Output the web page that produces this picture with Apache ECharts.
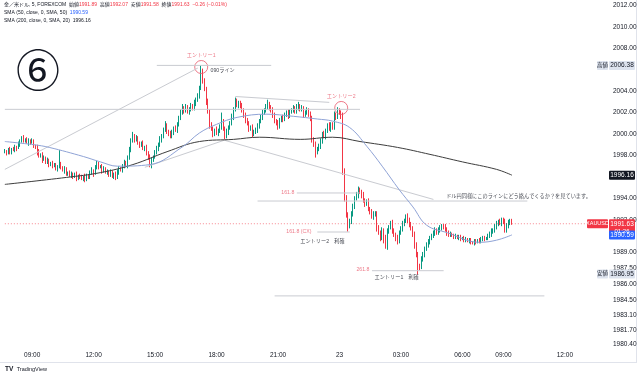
<!DOCTYPE html>
<html>
<head>
<meta charset="utf-8">
<script src="https://cdn.jsdelivr.net/npm/echarts@6/dist/echarts.min.js"></script>
<style>
  html, body { margin: 0; background: #fff; }
  #chart { width: 640px; height: 376px; }
</style>
</head>
<body>
<div id="chart"></div>
<script>
const FONT = '"Liberation Sans", "Noto Sans CJK JP", sans-serif';

// 5 minute bars (JST), 07:00-07:55 on the 23rd is the daily break
const sessions = [["22", "07:40", "23:55"], ["23", "00:00", "06:55"], ["23", "08:00", "13:55"]];
const categories = [];
const toMin = (s) => +s.slice(0, 2) * 60 + +s.slice(3);
for (const [d, a, b] of sessions) {
  for (let m = toMin(a); m <= toMin(b); m += 5) {
    categories.push(d + " " + String(Math.floor(m / 60)).padStart(2, "0") + ":" + String(m % 60).padStart(2, "0"));
  }
}
const timeTicks = ["09:00", "12:00", "15:00", "18:00", "21:00", "00:00", "03:00", "06:00"];
const priceTicks = [2012, 2010, 2008, 2004, 2002, 2000, 1998, 1994, 1992, 1989, 1987.5, 1986, 1984.5, 1983.1, 1981.7, 1980.4];

const firstOpen = 1998.3;
const closes = [
  1998.4,1998.2,1998.5,1998.3,1998.6,1998.5,1998.8,1998.7,1999.0,1999.3,
  1999.6,1999.4,1999.5,1999.2,1999.4,1999.2,1999.3,1998.9,1998.8,1998.3,
  1998.0,1998.1,1997.6,1997.8,1997.4,1997.5,1997.2,1997.3,1997.0,1997.1,
  1996.8,1997.0,1997.2,1996.9,1996.6,1996.7,1996.3,1996.4,1996.1,1996.3,
  1996.0,1996.2,1995.9,1996.1,1996.0,1995.8,1996.0,1995.8,1996.1,1996.0,
  1996.4,1996.6,1996.3,1996.9,1997.2,1996.9,1997.0,1996.6,1996.8,1996.5,
  1996.5,1996.2,1996.4,1996.0,1996.3,1996.0,1996.4,1996.8,1996.6,1997.0,
  1997.3,1997.1,1997.8,1998.5,1999.4,1999.8,1999.5,1999.6,1999.2,1999.0,
  1999.1,1998.7,1998.8,1998.2,1997.8,1997.1,1997.6,1997.9,1998.3,1998.6,
  1999.0,1999.5,1999.8,2000.4,2000.8,2000.3,2000.0,1999.8,2000.2,2000.5,
  2000.4,2000.9,2001.5,2002.0,2002.4,2002.2,2002.5,2002.1,2002.3,2002.6,
  2002.4,2002.9,2003.2,2003.5,2004.3,2005.8,2005.0,2004.2,2003.0,2002.1,
  2000.8,2000.5,2000.0,2000.3,2000.1,2000.3,2000.6,2001.2,2000.5,1999.8,
  2000.2,2000.6,2001.0,2001.6,2002.3,2003.0,2002.7,2002.9,2002.6,2002.2,
  2001.8,2001.2,2001.0,2000.5,2000.6,2000.0,2000.2,2000.4,2000.7,2001.2,
  2001.6,2002.0,2002.2,2002.5,2002.8,2002.5,2002.2,2001.8,2001.2,2001.0,
  2000.7,2001.3,2001.5,2001.4,2001.8,2002.0,2001.7,2002.1,2002.2,2002.4,
  2002.1,2002.5,2002.6,2002.3,2002.4,2001.8,2002.0,2002.2,2001.9,2001.4,
  1999.5,1999.0,1998.3,1998.6,1998.9,1999.3,2000.0,1999.8,2000.3,2000.8,
  2000.5,2000.9,2000.6,2001.8,2001.6,2002.1,2002.0,2001.7,1996.5,1994.0,
  1992.5,1991.5,1991.8,1992.6,1993.2,1994.0,1994.3,1994.8,1994.6,1994.3,
  1993.8,1993.5,1993.7,1993.0,1992.8,1992.3,1992.5,1992.6,1991.2,1990.8,
  1990.3,1991.0,1990.4,1989.5,1990.9,1991.3,1991.7,1991.0,1990.6,1990.3,
  1990.0,1990.8,1991.2,1991.6,1991.9,1992.3,1992.0,1991.5,1991.2,1990.7,
  1989.6,1988.8,1987.7,1987.6,1988.3,1988.8,1989.3,1989.6,1990.0,1990.3,
  1990.5,1990.8,1991.0,1990.8,1991.1,1991.2,1991.4,1991.3,1991.1,1990.8,
  1990.6,1990.7,1990.5,1990.4,1990.5,1990.3,1990.4,1990.2,1990.3,1990.1,
  1990.2,1990.0,1990.1,1989.9,1989.8,1990.0,1989.9,1990.1,1990.0,1990.2,
  1990.3,1990.2,1990.3,1990.5,1990.7,1990.9,1991.0,1991.4,1991.6,1991.8,
  1991.7,1992.0,1991.8,1991.0,1991.5,1991.7,1991.89,1991.63
];
// wick lengths above / below the body, in tenths of a dollar
const wickUp = [
  2,1,2,3,1,2,2,1,3,2, 2,3,1,2,2,1,3,2,1,2, 3,1,2,2,1,3,2,1,2,2, 2,1,13,2,1,3,2,1,2,2,
  1,2,3,1,2,2,1,3,2,1, 2,3,1,2,3,2,1,2,2,1, 2,1,3,2,1,2,3,2,1,2, 3,2,2,3,2,4,2,3,2,1,
  2,3,1,2,2,3,2,1,2,3, 2,3,2,2,4,2,1,3,2,2, 3,2,2,3,4,2,3,2,2,3, 2,3,2,3,2,6,3,2,2,3,
  2,3,2,2,4,2,3,8,2,2, 3,2,2,3,2,4,3,2,2,3, 2,2,3,2,2,3,2,2,3,2, 2,3,2,3,4,2,2,3,2,2,
  3,2,2,3,2,2,3,2,2,3, 2,3,4,2,3,2,2,3,2,2, 3,2,3,2,2,3,2,3,2,2, 3,2,2,3,2,4,3,2,3,3,
  3,2,3,2,3,2,3,3,2,2, 3,2,2,3,2,2,3,2,2,3, 2,3,2,2,3,2,2,3,2,2, 3,2,2,3,2,2,3,2,3,2,
  2,3,2,2,3,2,2,3,2,2, 2,2,3,2,2,3,2,2,3,2, 2,2,1,2,2,1,2,2,1,2, 2,1,2,2,1,2,2,1,2,2,
  2,2,1,2,2,3,2,2,3,2, 3,2,2,3,2,3,2,2
];
const wickDown = [
  1,2,1,2,2,1,2,3,1,2, 1,2,2,1,3,2,1,2,2,3, 2,2,3,1,2,2,3,2,2,1, 2,3,2,2,1,3,2,2,1,2,
  2,1,3,2,2,1,2,3,2,2, 2,2,3,1,2,2,1,3,2,2, 3,2,2,1,2,3,2,2,1,2, 2,2,3,2,2,2,3,2,2,3,
  2,2,3,2,2,2,3,2,2,2, 2,2,3,2,2,3,2,2,2,3, 2,3,2,2,2,3,2,2,3,2, 2,2,3,2,2,2,3,2,3,2,
  3,2,3,2,2,3,2,2,2,3, 2,3,2,2,3,2,2,3,2,2, 3,2,2,3,2,3,2,2,3,2, 2,3,2,2,2,3,2,3,2,2,
  3,2,2,3,2,2,3,2,2,2, 2,2,3,2,2,3,2,2,3,2, 3,2,5,2,2,3,2,2,3,2, 2,3,2,2,3,2,2,3,3,3,
  3,6,3,2,3,2,2,3,2,3, 2,3,2,2,3,2,3,2,3,2, 3,2,6,2,3,2,2,3,2,3, 3,2,2,3,2,2,3,2,2,3,
  3,3,8,3,2,2,3,2,2,3, 2,2,3,2,2,3,2,2,2,3, 2,2,1,2,2,1,2,2,1,2, 2,1,2,2,1,2,2,1,2,2,
  2,2,1,2,2,3,2,2,3,2, 2,3,2,2,2,3,2,1
];

// SMA values: [bar index, price]
const sma50 = [[0,1999.3],[17,1999.0],[26,1998.75],[46,1997.9],[56,1997.4],[66,1997.0],[85,1997.15],
  [104,1998.8],[114,2000.1],[124,2000.9],[136,2001.55],[153,2001.85],[169,2001.65],[183,2001.4],
  [192,2001.2],[202,2000.6],[212,1998.85],[221,1997.0],[231,1994.8],[239,1993.2],[247,1991.5],
  [259,1990.8],[278,1989.9],[288,1990.1],[297,1990.59]];
const sma200 = [[0,1995.3],[36,1995.95],[56,1996.4],[75,1997.15],[95,1998.35],[114,1999.3],
  [134,1999.5],[149,1999.7],[173,1999.5],[192,1999.7],[208,1999.3],[230,1998.75],[249,1998.1],
  [268,1997.4],[288,1996.7],[297,1996.16]];

// drawn lines: [[i0, p0], [i1, p1]]
const trendLines = [
  [[0, 1996.7], [113, 2006.15]],
  [[89, 2006.4], [156, 2006.4]],
  [[0, 2002.3], [208, 2002.3]],
  [[135, 2003.5], [190, 2002.95]],
  [[82, 1996.9], [130, 1999.5]],
  [[129, 1999.4], [251, 1993.9]],
  [[171, 1994.5], [208, 1994.5]],
  [[148, 1993.75], [306, 1993.75]],
  [[183, 1990.86], [202, 1990.86]],
  [[215, 1987.25], [257, 1987.25]],
  [[158, 1984.9], [316, 1984.9]]
];
const circles = [[115, 2006.25], [197, 2002.43]];
// [bar index, price, text, colour, label position]
const notes = [
  [115, 2007.3, "エントリー1", "#e8576a", "inside"],
  [119, 2005.88, "090ライン", "#131722", "right"],
  [197, 2003.45, "エントリー2", "#e8576a", "inside"],
  [171, 1994.5, "161.8", "#e8576a", "left"],
  [257, 1994.13, "ドル円同様にこのラインにどう絡んでくるか？を見ています。", "#131722", "right"],
  [181, 1990.86, "161.8 (CX)", "#e8576a", "left"],
  [186, 1990.0, "エントリー2　利確", "#131722", "inside"],
  [215, 1987.32, "261.8", "#e8576a", "left"],
  [215, 1986.57, "エントリー1　利確", "#131722", "right"]
];
const lastPrice = 1991.63;

const candles = closes.map((c, i) => {
  const o = i === 0 ? firstOpen : closes[i - 1];
  return [o, c, Math.min(o, c) - wickDown[i] / 10, Math.max(o, c) + wickUp[i] / 10];
});

const chart = echarts.init(document.getElementById("chart"));
const option = {
  animation: false,
  backgroundColor: "#fff",
  grid: { left: 4, right: 35, top: 0, bottom: 28 },
  xAxis: {
    type: "category",
    data: categories,
    boundaryGap: true,
    axisLine: { show: false },
    axisTick: { show: false },
    splitLine: { show: false },
    axisLabel: {
      interval: (i, v) => timeTicks.includes(v.slice(3)),
      formatter: (v) => (v.slice(3) === "00:00" ? v.slice(0, 2) : v.slice(3)),
      color: "#131722",
      fontSize: 6.5,
      fontFamily: FONT,
      margin: 4
    }
  },
  yAxis: {
    type: "value",
    position: "right",
    min: 1980.04,
    max: 2012.5,
    splitLine: { show: false },
    axisLine: { show: false },
    axisTick: { show: false },
    axisLabel: {
      customValues: priceTicks,
      formatter: (v) => v.toFixed(2),
      color: "#131722",
      fontSize: 6.5,
      fontFamily: FONT,
      margin: 8
    }
  },
  series: [
    ...trendLines.map((seg) => ({
      type: "line", data: seg, symbol: "none", silent: true,
      lineStyle: { color: "#c9cbd1", width: 1 }
    })),
    {
      type: "line", data: [[0, lastPrice], [categories.length - 1, lastPrice]], symbol: "none", silent: true,
      lineStyle: { color: "#f23645", width: 1, type: [1, 2], opacity: 0.6 }
    },
    {
      type: "line", name: "SMA200", data: sma200, symbol: "none", smooth: 0.4,
      lineStyle: { color: "#3d3d3d", width: 1 }
    },
    {
      type: "line", name: "SMA50", data: sma50, symbol: "none", smooth: 0.4,
      lineStyle: { color: "#8fa3d6", width: 1 }
    },
    {
      type: "candlestick",
      data: candles,
      barWidth: "70%",
      itemStyle: {
        color: "#089981", color0: "#f23645",
        borderColor: "#089981", borderColor0: "#f23645", borderWidth: 1
      }
    },
    {
      type: "scatter", data: circles, symbol: "circle", symbolSize: 13, silent: true,
      itemStyle: { color: "rgba(0,0,0,0)", borderColor: "#e8576a", borderWidth: 1 }
    },
    {
      type: "scatter", symbolSize: 1, silent: true,
      itemStyle: { color: "rgba(0,0,0,0)" },
      data: notes.map(([i, v, t, c, pos]) => ({
        value: [i, v],
        label: { show: true, formatter: t, color: c, position: pos, distance: 2, fontSize: 5.2, fontFamily: FONT }
      }))
    }
  ]
};
chart.setOption(option);

// price tags on the right scale, placed through the y axis
const py = (v) => chart.convertToPixel({ yAxisIndex: 0 }, v);
const tagFont = (s) => s + "px " + FONT;
const tags = [];
function priceTag(v, bg, fg, h) {
  const y = py(v);
  tags.push({ type: "rect", shape: { x: 609, y: y - 4.5, width: 26, height: h || 9, r: 1 }, style: { fill: bg }, z: 10 });
  tags.push({ type: "text", x: 622, y: y, style: { text: v.toFixed(2), fill: fg, font: tagFont(6.5), align: "center", verticalAlign: "middle" }, z: 11 });
  return y;
}
function sideTag(v, text, bg, fg, x, w) {
  const y = py(v);
  tags.push({ type: "rect", shape: { x: x, y: y - 4.5, width: w, height: 9, r: 1 }, style: { fill: bg }, z: 10 });
  tags.push({ type: "text", x: x + w / 2, y: y, style: { text: text, fill: fg, font: tagFont(5.5), align: "center", verticalAlign: "middle" }, z: 11 });
}
priceTag(2006.38, "#dde3ee", "#131722");
sideTag(2006.38, "高値", "#dde3ee", "#131722", 597, 11);
priceTag(1996.16, "#131722", "#ffffff");
const yLast = priceTag(lastPrice, "#f23645", "#ffffff", 17);
tags.push({ type: "text", x: 622, y: yLast + 8, style: { text: "01:26", fill: "#ffffff", font: tagFont(6), align: "center", verticalAlign: "middle" }, z: 11 });
sideTag(lastPrice, "XAUUSD", "#f23645", "#ffffff", 587, 21);
priceTag(1990.59, "#2962ff", "#ffffff");
priceTag(1986.95, "#dde3ee", "#131722");
sideTag(1986.95, "安値", "#dde3ee", "#131722", 597, 11);

const legend = [
  {
    y: 5,
    text: "{d|金／米ドル, 5, FOREXCOM  始値}{r|1991.89}{d|  高値}{r|1992.07}{d|  安値}{r|1991.58}{d|  終値}{r|1991.63}{r|  −0.26 (−0.01%)}"
  },
  { y: 13, text: "{d|SMA (50, close, 0, SMA, 50)  }{b|1990.59}" },
  { y: 21, text: "{d|SMA (200, close, 0, SMA, 20)  }{d|1996.16}" }
];
const rich = {
  d: { fill: "#131722", fontSize: 5, fontFamily: FONT },
  r: { fill: "#f23645", fontSize: 5, fontFamily: FONT },
  b: { fill: "#2962ff", fontSize: 5, fontFamily: FONT }
};

chart.setOption({
  graphic: [
    ...legend.map((l) => ({ type: "text", x: 4, y: l.y, style: { text: l.text, rich: rich, verticalAlign: "middle" } })),
    { type: "text", x: 38, y: 70, style: { text: "⑥", font: '44px "Noto Sans CJK JP"', fill: "#131722", align: "center", verticalAlign: "middle" } },
    { type: "line", shape: { x1: 636.5, y1: 0, x2: 636.5, y2: 363 }, style: { stroke: "#e0e3eb", lineWidth: 1 } },
    { type: "line", shape: { x1: 0, y1: 362.5, x2: 636, y2: 362.5 }, style: { stroke: "#e0e3eb", lineWidth: 1 } },
    { type: "text", x: 5, y: 369, style: { text: "{t|TV} {n|TradingView}", rich: {
      t: { fill: "#131722", fontSize: 6.5, fontWeight: "bold", fontFamily: FONT },
      n: { fill: "#131722", fontSize: 5.5, fontFamily: FONT } }, verticalAlign: "middle" } },
    ...tags
  ]
});
</script>
</body>
</html>
